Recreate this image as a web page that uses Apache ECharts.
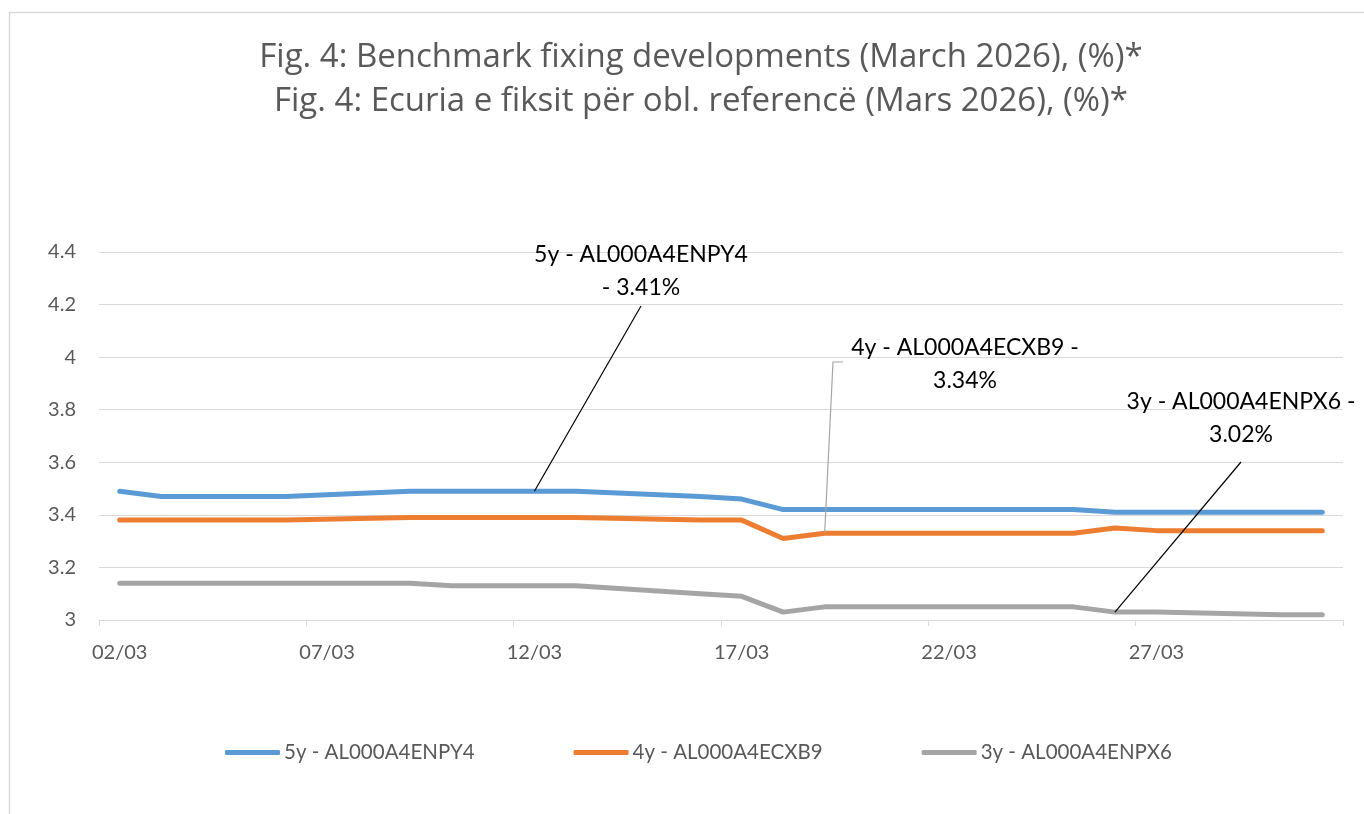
<!DOCTYPE html>
<html>
<head>
<meta charset="utf-8">
<script src="https://cdn.jsdelivr.net/npm/echarts@6/dist/echarts.min.js"></script>
<style>html,body{margin:0;padding:0;background:#fff}#c{width:1364px;height:814px}</style>
</head>
<body>
<div id="c"></div>
<script>
const titleLines = ['Fig. 4: Benchmark fixing developments (March 2026), (%)*', 'Fig. 4: Ecuria e fiksit për obl. referencë (Mars 2026), (%)*'];
const days = ['02/03','03/03','04/03','05/03','06/03','07/03','08/03','09/03','10/03','11/03','12/03','13/03','14/03','15/03','16/03','17/03','18/03','19/03','20/03','21/03','22/03','23/03','24/03','25/03','26/03','27/03','28/03','29/03','30/03','31/03'];
const seriesNames = ['5y - AL000A4ENPY4', '4y - AL000A4ECXB9', '3y - AL000A4ENPX6'];
const y5 = [3.49,3.47,3.47,3.47,3.47,null,null,3.49,3.49,3.49,3.49,3.49,null,null,3.47,3.46,3.42,3.42,3.42,null,null,3.42,3.42,3.42,3.41,3.41,null,null,3.41,3.41];
const y4 = [3.38,3.38,3.38,3.38,3.38,null,null,3.39,3.39,3.39,3.39,3.39,null,null,3.38,3.38,3.31,3.33,3.33,null,null,3.33,3.33,3.33,3.35,3.34,null,null,3.34,3.34];
const y3 = [3.14,3.14,3.14,3.14,3.14,null,null,3.14,3.13,3.13,3.13,3.13,null,null,3.10,3.09,3.03,3.05,3.05,null,null,3.05,3.05,3.05,3.03,3.03,null,null,3.02,3.02];
const yTicks = {min: 3, max: 4.4, interval: 0.2};
// data labels: which point carries the label, and the label values
const labelAt = ['12/03', '19/03', '26/03'];
const labelValue = ['3.41%', '3.34%', '3.02%'];
const labelText = [seriesNames[0] + '\n- ' + labelValue[0], seriesNames[1] + ' -\n' + labelValue[1], seriesNames[2] + ' -\n' + labelValue[2]];
const allVals = [y5, y4, y3];

const colors = ['#5B9BD5', '#ED7D31', '#A5A5A5'];
const FONT = 'Lato';
// label placement (pixels) and leader line ends near the labels
const labelPos = [
  {x: 641, y: 271, line: [[641, 306]]},
  {x: 965, y: 364, line: [[833, 362], [843, 362]]},
  {x: 1241, y: 418, line: [[1241, 462]]}
];
const leaderColor = ['#000000', '#A6A6A6', '#000000'];

function buildData(vals, si) {
  const idx = days.indexOf(labelAt[si]);
  return vals.map((v, i) => (i === idx) ? {value: v, label: {show: true, formatter: labelText[si]}} : v);
}

const chart = echarts.init(document.getElementById('c'), null, {renderer: 'canvas'});
const series = allVals.map((vals, si) => ({
  name: seriesNames[si],
  type: 'line',
  data: buildData(vals, si),
  connectNulls: true,
  showSymbol: true,
  showAllSymbol: true,
  symbol: 'circle',
  symbolSize: 1,
  itemStyle: {color: colors[si]},
  lineStyle: {color: colors[si], width: 5, cap: 'round', join: 'round'},
  label: {show: false, fontFamily: FONT, fontSize: 23, color: '#000', lineHeight: 33, align: 'center'},
  labelLayout: function () {
    const p = labelPos[si];
    return {x: p.x, y: p.y, align: 'center', verticalAlign: 'middle'};
  },
  emphasis: {disabled: true},
  z: 3 - si
}));

chart.setOption({
  animation: false,
  backgroundColor: '#fff',
  title: {
    text: titleLines.join('\n'),
    left: 696, top: 31,
    textAlign: 'center',
    textStyle: {fontFamily: 'Open Sans', fontSize: 33, fontWeight: 'normal', color: '#595959', lineHeight: 44}
  },
  graphic: [{
    id: 'border', type: 'rect', left: 7, top: 10, shape: {width: 1420, height: 900},
    style: {fill: 'none', stroke: '#D9D9D9', lineWidth: 1.5}, silent: true, z: -1
  }],
  legend: {
    left: 220, top: 737,
    itemWidth: 55, itemHeight: 5, itemGap: 99,
    icon: 'roundRect',
    textStyle: {fontFamily: FONT, fontSize: 20.5, color: '#595959', padding: [0, 0, 0, -1]},
    data: seriesNames
  },
  grid: {left: 99, right: 21, top: 252, bottom: 194, containLabel: false},
  xAxis: {
    type: 'category',
    data: days,
    boundaryGap: true,
    axisLine: {show: true, lineStyle: {color: '#D9D9D9', width: 1}},
    axisTick: {show: true, interval: 4, length: 6, lineStyle: {color: '#D9D9D9'}},
    axisLabel: {interval: 4, margin: 23, fontFamily: FONT, fontSize: 20, color: '#595959'},
    splitLine: {show: false}
  },
  yAxis: {
    type: 'value',
    min: yTicks.min, max: yTicks.max, interval: yTicks.interval,
    axisLine: {show: false},
    axisTick: {show: false},
    axisLabel: {margin: 23, fontFamily: FONT, fontSize: 20, color: '#595959', formatter: v => String(+v.toFixed(1))},
    splitLine: {lineStyle: {color: '#D9D9D9', width: 1}}
  },
  series: series
});

// leader lines: anchored on the data point via the chart's own scales
const leaders = allVals.map((vals, si) => {
  const idx = days.indexOf(labelAt[si]);
  const anchor = chart.convertToPixel({xAxisIndex: 0, yAxisIndex: 0}, [idx, vals[idx]]);
  return {
    id: 'leader' + si, type: 'polyline', silent: true, z: 10,
    shape: {points: [anchor].concat(labelPos[si].line)},
    style: {stroke: leaderColor[si], lineWidth: 1.2, fill: null}
  };
});
chart.setOption({graphic: leaders});
</script>
</body>
</html>
